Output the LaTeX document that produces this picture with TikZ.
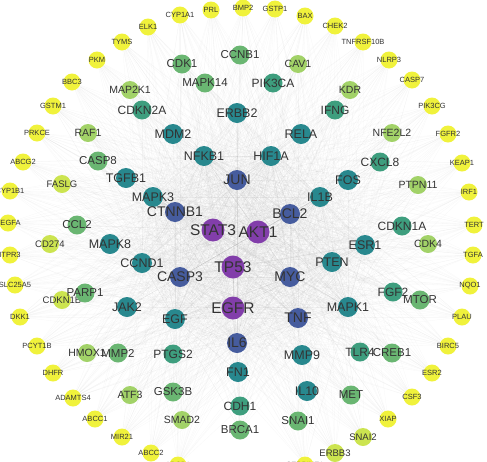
\documentclass[tikz,border=0pt]{standalone}
\usepackage{fontspec}
\setmainfont{Liberation Sans}
\pgfdeclarelayer{edges}
\pgfsetlayers{edges,main}
\definecolor{cy}{RGB}{240,242,60}
\definecolor{cyg}{RGB}{204,228,80}
\definecolor{cl}{RGB}{162,210,104}
\definecolor{cg}{RGB}{106,182,114}
\definecolor{ctg}{RGB}{62,158,126}
\definecolor{ct}{RGB}{40,136,142}
\definecolor{cb}{RGB}{70,92,158}
\definecolor{cp}{RGB}{130,62,170}
\begin{document}
\begin{tikzpicture}[x=1pt,y=-1pt,
  nd/.style={circle,draw=none,inner sep=0pt},
  lab/.style={text=black!80,inner sep=0pt},
  tY/.style={nd,fill=cy,minimum size=17pt,label={[lab,font=\fontsize{7.5}{8}\selectfont]center:#1}},
  tYG/.style={nd,fill=cyg,minimum size=18pt,label={[lab,font=\fontsize{9.5}{10}\selectfont]center:#1}},
  tL/.style={nd,fill=cl,minimum size=18pt,label={[lab,font=\fontsize{10.5}{11}\selectfont]center:#1}},
  tG/.style={nd,fill=cg,minimum size=19pt,label={[lab,font=\fontsize{11.5}{12}\selectfont]center:#1}},
  tTG/.style={nd,fill=ctg,minimum size=19pt,label={[lab,font=\fontsize{12}{13}\selectfont]center:#1}},
  tT/.style={nd,fill=ct,minimum size=20pt,label={[lab,font=\fontsize{12.5}{13}\selectfont]center:#1}},
  tB/.style={nd,fill=cb,minimum size=20pt,label={[lab,font=\fontsize{14}{15}\selectfont]center:#1}},
  tP/.style={nd,fill=cp,minimum size=23pt,label={[lab,font=\fontsize{15.5}{16}\selectfont]center:#1}},
  edge/.style={draw=gray!80,line width=0.3pt,opacity=0.075}]
\useasboundingbox (0,0) rectangle (487,461);
\foreach \n/\x/\y in {CYP1A1/180/15, PRL/211/10, BMP2/243/8, GSTP1/275/9, BAX/305/16, CHEK2/335/26, TNFRSF10B/363/42, NLRP3/389/60, CASP7/412/80, PIK3CG/432/106, FGFR2/448/134, KEAP1/462/163, IRF1/469/192, TERT/474/225, TGFA/473/255, NQO1/470/286, PLAU/462/317, BIRC5/448/346, ESR2/432/373, CSF3/412/397, XIAP/388/419, ELK1/148/27, TYMS/122/42, PKM/97/60, BBC3/72/82, GSTM1/53/106, PRKCE/37/133, ABCG2/23/162, CYP1B1/10/191, VEGFA/8/223, ITPR3/10/255, SLC25A5/15/285, DKK1/20/317, PCYT1B/37/346, DHFR/53/373, ADAMTS4/73/398, ABCC1/95/419, MIR21/122/437, ABCC2/151/453, ABCB1/178/465, SERPINE1/305/465}
  \node[tY=\n] (\n) at (\x,\y) {};
\foreach \n/\x/\y in {FASLG/62/184, CD274/50/244, SNAI2/363/437, ERBB3/335/453, CDKN1B/62/300}
  \node[tYG=\n] (\n) at (\x,\y) {};
\foreach \n/\x/\y in {CAV1/298/64, KDR/350/90, NFE2L2/392/133, PTPN11/418/185, CDK4/428/244, MAP2K1/130/90, RAF1/88/133, HMOX1/87/353, ATF3/130/395, SMAD2/182/420}
  \node[tL=\n] (\n) at (\x,\y) {};
\foreach \n/\x/\y in {CDK1/182/64, CCNB1/240/55, MAPK14/205/83, CASP8/98/161, CCL2/77/225, PARP1/85/293, MMP2/118/353, GSK3B/173/392, BRCA1/240/430, SNAI1/298/421, MET/351/395, MTOR/420/300, CREB1/392/353}
  \node[tG=\n] (\n) at (\x,\y) {};
\foreach \n/\x/\y in {CDKN2A/142/110, PIK3CA/273/83, IFNG/335/110, CXCL8/380/162, CDKN1A/402/226, FGF2/393/292, TLR4/360/352, CDH1/240/406, PTGS2/173/354}
  \node[tTG=\n] (\n) at (\x,\y) {};
\foreach \n/\x/\y in {ERBB2/237/113, MDM2/173/134, RELA/301/134, NFKB1/204/156, HIF1A/271/156, TGFB1/126/178, FOS/348/180, MAPK3/153/197, IL1B/320/197, MAPK8/110/244, ESR1/365/245, CCND1/142/263, PTEN/332/262, MAPK1/348/307, EGF/175/319, JAK2/127/307, MMP9/302/355, FN1/238/372, IL10/307/391}
  \node[tT=\n] (\n) at (\x,\y) {};
\foreach \n/\x/\y in {JUN/237/180, CTNNB1/175/212, BCL2/290/214, CASP3/180/277, MYC/290/277, IL6/237/343, TNF/298/318}
  \node[tB=\n] (\n) at (\x,\y) {};
\foreach \n/\x/\y in {STAT3/213/230, AKT1/258/232, TP53/233/267, EGFR/233/308}
  \node[tP=\n] (\n) at (\x,\y) {};
\def\allnodes{CYP1A1,PRL,BMP2,GSTP1,BAX,CHEK2,TNFRSF10B,NLRP3,CASP7,PIK3CG,FGFR2,KEAP1,IRF1,TERT,TGFA,NQO1,PLAU,BIRC5,ESR2,CSF3,XIAP,ELK1,TYMS,PKM,BBC3,GSTM1,PRKCE,ABCG2,CYP1B1,VEGFA,ITPR3,SLC25A5,DKK1,PCYT1B,DHFR,ADAMTS4,ABCC1,MIR21,ABCC2,ABCB1,SERPINE1,FASLG,CD274,SNAI2,ERBB3,CDKN1B,CAV1,KDR,NFE2L2,PTPN11,CDK4,MAP2K1,RAF1,HMOX1,ATF3,SMAD2,CDK1,CCNB1,MAPK14,CASP8,CCL2,PARP1,MMP2,GSK3B,BRCA1,SNAI1,MET,MTOR,CREB1,CDKN2A,PIK3CA,IFNG,CXCL8,CDKN1A,FGF2,TLR4,CDH1,PTGS2,ERBB2,MDM2,RELA,NFKB1,HIF1A,TGFB1,FOS,MAPK3,IL1B,MAPK8,ESR1,CCND1,PTEN,MAPK1,EGF,JAK2,MMP9,FN1,IL10,JUN,CTNNB1,BCL2,CASP3,MYC,IL6,TNF,STAT3,AKT1,TP53,EGFR}
\begin{pgfonlayer}{edges}
\foreach \a in {STAT3,AKT1,TP53,EGFR,JUN,CTNNB1,BCL2,CASP3,MYC,IL6,TNF,PTEN,HIF1A,NFKB1,MAPK3,IL1B,ESR1,EGF,CCND1,MAPK1}
  \foreach \b in \allnodes
    \draw[edge] (\a) -- (\b);
\end{pgfonlayer}
\end{tikzpicture}
\end{document}
